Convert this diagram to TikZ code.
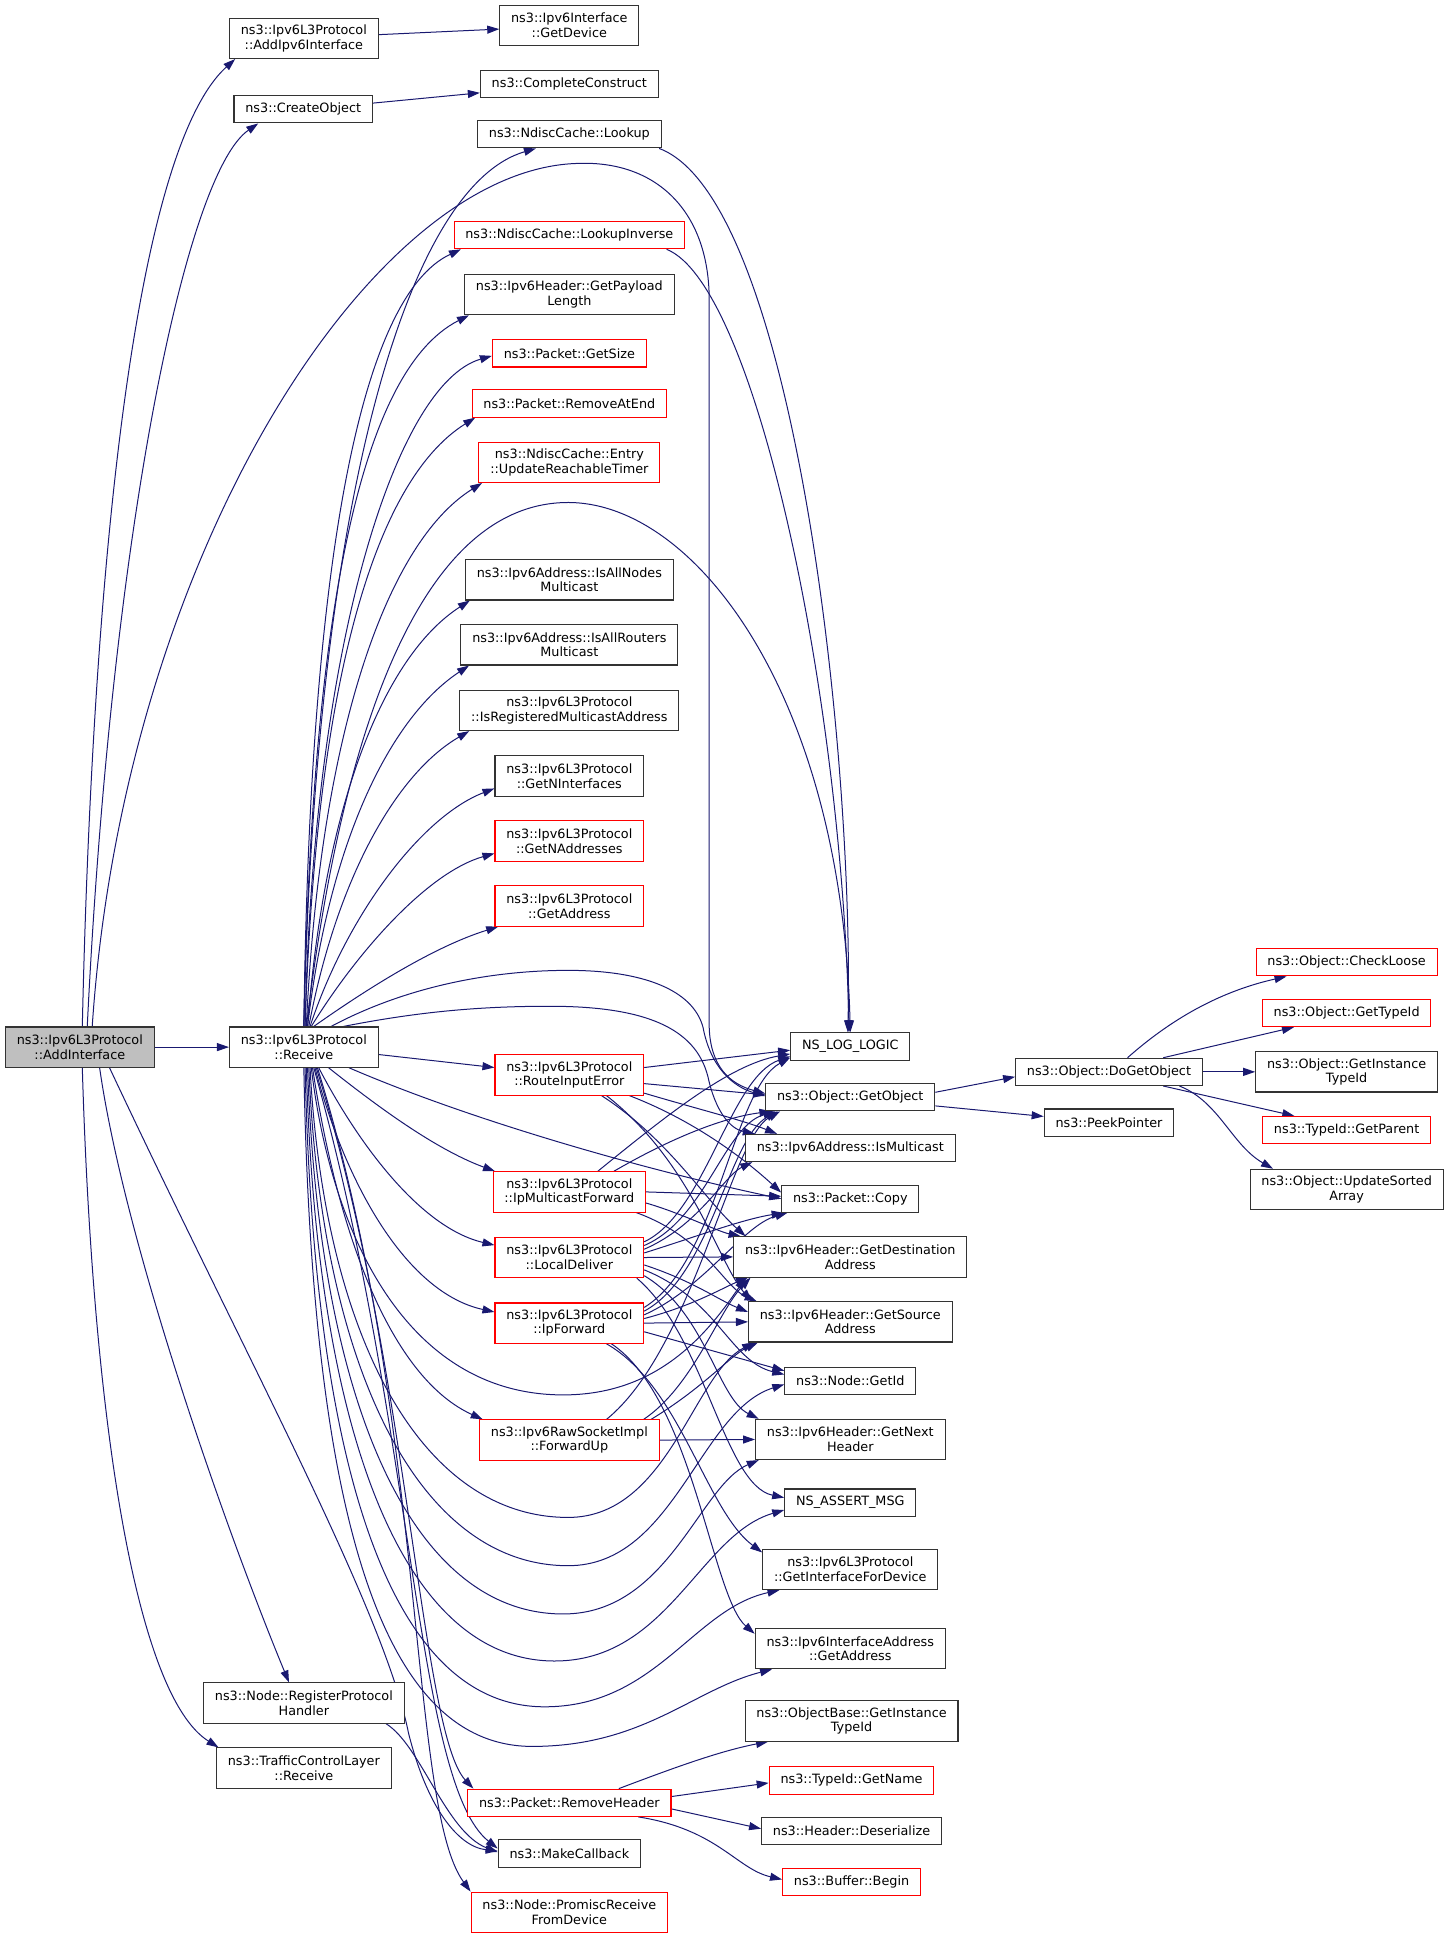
\documentclass[tikz,border=0pt]{standalone}
\usepackage{fontspec}
\setmainfont{DejaVu Sans}
\usetikzlibrary{arrows.meta,calc}
\definecolor{navy}{RGB}{25,25,112}
\definecolor{boxgray}{RGB}{191,191,191}
\newcommand\fs{\fontsize{9.6}{11}\selectfont}
\pgfdeclarelayer{bg}
\pgfsetlayers{bg,main}
\tikzset{
  box/.style={draw=black!80, line width=0.8pt, fill=white, font=\fs, align=center,
    inner xsep=8.5pt, inner ysep=0pt, minimum height=20.4pt},
  box2/.style={box, minimum height=30.2pt},
  redb/.style={draw=red},
  e/.style={draw=navy, line width=0.75pt, -{Triangle[length=9pt,width=6pt]}}
}
\begin{document}
\begin{tikzpicture}[x=0.9282pt,y=-0.9282pt]
\useasboundingbox (0,0) rectangle (1170,1565);
% ---------- nodes ----------
\node[box2, fill=boxgray] (AI) at (64.5,846) {ns3::Ipv6L3Protocol\\::AddInterface};
\node[box2] (RCV) at (245.5,846) {ns3::Ipv6L3Protocol\\::Receive};
\node[box2] (AIP) at (245.5,31) {ns3::Ipv6L3Protocol\\::AddIpv6Interface};
\node[box] (CO) at (245,88.3) {ns3::CreateObject};
\node[box2] (RPH) at (245.5,1376) {ns3::Node::RegisterProtocol\\Handler};
\node[box2] (TCL) at (245.5,1428.5) {ns3::TrafficControlLayer\\::Receive};
%
\node[box2] (GD) at (460,20.5) {ns3::Ipv6Interface\\::GetDevice};
\node[box] (CC) at (460,68) {ns3::CompleteConstruct};
\node[box] (LU) at (460,108.5) {ns3::NdiscCache::Lookup};
\node[box,redb] (LI) at (460,190) {ns3::NdiscCache::LookupInverse};
\node[box2] (GPL) at (460,238) {ns3::Ipv6Header::GetPayload\\Length};
\node[box,redb] (GS) at (460,285.5) {ns3::Packet::GetSize};
\node[box,redb] (RAE) at (460,326) {ns3::Packet::RemoveAtEnd};
\node[box2,redb] (URT) at (460,373.5) {ns3::NdiscCache::Entry\\::UpdateReachableTimer};
\node[box2] (IAN) at (460,468.5) {ns3::Ipv6Address::IsAllNodes\\Multicast};
\node[box2] (IAR) at (460,521) {ns3::Ipv6Address::IsAllRouters\\Multicast};
\node[box2] (IRM) at (460,574) {ns3::Ipv6L3Protocol\\::IsRegisteredMulticastAddress};
\node[box2] (GNI) at (460,627) {ns3::Ipv6L3Protocol\\::GetNInterfaces};
\node[box2,redb] (GNA) at (460,679.5) {ns3::Ipv6L3Protocol\\::GetNAddresses};
\node[box2,redb] (GA) at (460,732) {ns3::Ipv6L3Protocol\\::GetAddress};
\node[box2,redb] (RIE) at (460,868.5) {ns3::Ipv6L3Protocol\\::RouteInputError};
\node[box2,redb] (IMF) at (460,963) {ns3::Ipv6L3Protocol\\::IpMulticastForward};
\node[box2,redb] (LD) at (460,1016) {ns3::Ipv6L3Protocol\\::LocalDeliver};
\node[box2,redb] (IF) at (460,1069) {ns3::Ipv6L3Protocol\\::IpForward};
\node[box2,redb] (FU) at (460,1163.5) {ns3::Ipv6RawSocketImpl\\::ForwardUp};
\node[box,redb] (RH) at (460,1456.5) {ns3::Packet::RemoveHeader};
\node[box] (MC) at (460,1497.5) {ns3::MakeCallback};
\node[box2,redb] (PR) at (460,1545) {ns3::Node::PromiscReceive\\FromDevice};
%
\node[box] (NSL) at (687,845.5) {NS\_LOG\_LOGIC};
\node[box] (GO) at (687,886.5) {ns3::Object::GetObject};
\node[box] (IM) at (687,927.5) {ns3::Ipv6Address::IsMulticast};
\node[box] (PC) at (687,968.5) {ns3::Packet::Copy};
\node[box2] (GDA) at (687,1015.5) {ns3::Ipv6Header::GetDestination\\Address};
\node[box2] (GSA) at (687,1068) {ns3::Ipv6Header::GetSource\\Address};
\node[box] (NGI) at (687,1115.5) {ns3::Node::GetId};
\node[box2] (GNH) at (687,1163) {ns3::Ipv6Header::GetNext\\Header};
\node[box] (NAM) at (687,1214) {NS\_ASSERT\_MSG};
\node[box2] (GIFD) at (687,1268) {ns3::Ipv6L3Protocol\\::GetInterfaceForDevice};
\node[box2] (IAGA) at (687,1332) {ns3::Ipv6InterfaceAddress\\::GetAddress};
\node[box2] (OBGI) at (688,1390.5) {ns3::ObjectBase::GetInstance\\TypeId};
\node[box,redb] (TGN) at (688,1438.5) {ns3::TypeId::GetName};
\node[box] (HD) at (688,1479.5) {ns3::Header::Deserialize};
\node[box,redb] (BB) at (688,1520.5) {ns3::Buffer::Begin};
%
\node[box] (DGO) at (896,866) {ns3::Object::DoGetObject};
\node[box] (PP) at (896,907) {ns3::PeekPointer};
\node[box,redb] (CL) at (1088,777.5) {ns3::Object::CheckLoose};
\node[box,redb] (GTI) at (1088,818.5) {ns3::Object::GetTypeId};
\node[box2] (OGI) at (1088,866) {ns3::Object::GetInstance\\TypeId};
\node[box,redb] (TGP) at (1088,913) {ns3::TypeId::GetParent};
\node[box2] (USA) at (1088,961) {ns3::Object::UpdateSorted\\Array};
% ---------- edges ----------
\begin{pgfonlayer}{bg}
% AddInterface
\draw[e] ($(AI.north)+(2,0)$) .. controls (75,450) and (110,120) .. ($(AIP.south west)+(5,0)$);
\draw[e] ($(AI.north)+(6,0)$) .. controls (90,430) and (150,140) .. ($(CO.south west)+(20,0)$);
\draw[e] ($(AI.north)+(10,0)$) .. controls (100,450) and (300,135) .. (468,132) .. controls (530,130) and (572,170) .. (573,240) -- (573,830) .. controls (574,862) and (590,876) .. ($(GO.west)+(0,-3)$);
\draw[e] (AI.east) -- (RCV.west);
\draw[e] ($(AI.south)+(16,0)$) .. controls (100,1000) and (180,1230) .. ($(RPH.north)+(-12,0)$);
\draw[e] ($(AI.south)+(2,0)$) .. controls (75,1150) and (110,1370) .. ($(TCL.north west)+(2,0)$);
\draw[e] ($(AI.south)+(24,0)$) .. controls (200,1100) and (310,1300) .. (330,1400) .. controls (345,1460) and (370,1492) .. ($(MC.west)+(0,-2)$);
% Receive: upward fan
\draw[e] ($(RCV.east)+(0,6)$) -- ($(RIE.west)+(0,-6)$);
\draw[e] (RCV.north) .. controls (255,400) and (330,150) .. ($(LU.south)+(-27,0)$);
\draw[e] (RCV.north) .. controls (250,460) and (290,240) .. ($(LI.south west)+(6,0)$);
\draw[e] (RCV.north) .. controls (252,500) and (290,300) .. ($(GPL.south west)+(4,0)$);
\draw[e] ($(RCV.north)+(1,0)$) .. controls (253,520) and (320,310) .. ($(GS.west)+(0,2)$);
\draw[e] ($(RCV.north)+(1,0)$) .. controls (255,560) and (300,390) .. ($(RAE.south west)+(3,0)$);
\draw[e] ($(RCV.north)+(2,0)$) .. controls (258,600) and (310,440) .. ($(URT.south west)+(3,0)$);
\draw[e] ($(RCV.north)+(2,0)$) .. controls (280,560) and (350,408) .. (457,406) .. controls (560,404) and (680,560) .. (NSL.north);
\draw[e] ($(RCV.north)+(3,0)$) .. controls (262,650) and (310,530) .. ($(IAN.south west)+(4,0)$);
\draw[e] ($(RCV.north)+(3,0)$) .. controls (266,680) and (315,580) .. ($(IAR.south west)+(7,0)$);
\draw[e] ($(RCV.north)+(4,0)$) .. controls (272,710) and (320,625) .. ($(IRM.south west)+(8,0)$);
\draw[e] ($(RCV.north)+(5,0)$) .. controls (280,740) and (340,660) .. ($(GNI.west)+(0,10)$);
\draw[e] ($(RCV.north)+(6,0)$) .. controls (288,770) and (345,705) .. ($(GNA.west)+(0,10)$);
\draw[e] ($(RCV.north)+(8,0)$) .. controls (295,800) and (350,765) .. ($(GA.south west)+(3,0)$);
% Receive: arcs over to the right
\draw[e] ($(RCV.north)+(22,0)$) .. controls (330,796) and (400,784) .. (459,784) .. controls (520,784) and (560,800) .. (568,830) .. controls (574,862) and (592,878) .. ($(GO.west)+(0,-1)$);
\draw[e] ($(RCV.north)+(32,0)$) .. controls (340,817) and (390,813) .. (444,813) .. controls (520,813) and (562,830) .. (572,870) .. controls (578,898) and (590,912) .. ($(IM.north west)+(8,0)$);
% Receive: rightward / downward
\draw[e] ($(RCV.south east)+(-24,0)$) .. controls (380,905) and (520,945) .. (PC.west);
\draw[e] ($(RCV.south)+(20,0)$) .. controls (300,890) and (350,928) .. ($(IMF.north west)+(2,0)$);
\draw[e] ($(RCV.south)+(12,0)$) .. controls (290,925) and (340,992) .. ($(LD.west)+(0,-10)$);
\draw[e] ($(RCV.south)+(9,0)$) .. controls (280,960) and (330,1045) .. ($(IF.west)+(0,-9)$);
\draw[e] ($(RCV.south)+(7,0)$) .. controls (275,1010) and (320,1115) .. ($(FU.north west)+(3,0)$);
% Receive: arcs below
\draw[e] ($(RCV.south)+(6,0)$) .. controls (268,1000) and (330,1127) .. (455,1127) .. controls (530,1127) and (570,1080) .. ($(GDA.south west)+(10,0)$);
\draw[e] ($(RCV.south)+(5,0)$) .. controls (262,1080) and (340,1226) .. (459,1226) .. controls (540,1226) and (560,1110) .. ($(GSA.south west)+(5,0)$);
\draw[e] ($(RCV.south)+(4,0)$) .. controls (260,1110) and (340,1265) .. (459,1265) .. controls (545,1265) and (565,1140) .. ($(NGI.west)+(0,3)$);
\draw[e] ($(RCV.south)+(3,0)$) .. controls (258,1140) and (335,1304) .. (455,1304) .. controls (540,1304) and (565,1200) .. ($(GNH.south west)+(3,0)$);
\draw[e] ($(RCV.south)+(2,0)$) .. controls (256,1170) and (330,1342) .. (448,1342) .. controls (540,1342) and (565,1240) .. ($(NAM.west)+(0,6)$);
\draw[e] ($(RCV.south)+(1,0)$) .. controls (254,1200) and (320,1379) .. (440,1379) .. controls (530,1379) and (560,1300) .. ($(GIFD.south west)+(14,0)$);
\draw[e] (RCV.south) .. controls (252,1230) and (310,1411) .. (430,1411) .. controls (520,1411) and (560,1365) .. ($(IAGA.south west)+(14,0)$);
% Receive: down bundle
\draw[e] ($(RCV.south)+(10,0)$) .. controls (330,1100) and (340,1400) .. ($(RH.north west)+(5,0)$);
\draw[e] ($(RCV.south)+(8,0)$) .. controls (335,1150) and (335,1440) .. ($(MC.west)+(0,-4)$);
\draw[e] ($(RCV.south)+(11,0)$) .. controls (345,1150) and (330,1460) .. (PR.north west);
\draw[e] ($(RPH.south east)+(-15,0)$) .. controls (340,1410) and (360,1480) .. ($(MC.west)+(0,-1)$);
% RouteInputError
\draw[e] ($(RIE.east)+(0,-6)$) -- ($(NSL.west)+(0,3)$);
\draw[e] ($(RIE.east)+(0,7)$) -- ($(GO.west)+(0,-2)$);
\draw[e] ($(RIE.south east)+(0,-2)$) .. controls (560,895) and (600,905) .. ($(IM.north west)+(26,0)$);
\draw[e] ($(RIE.south east)+(-12,0)$) .. controls (560,905) and (600,935) .. ($(PC.west)+(0,-5)$);
\draw[e] ($(RIE.south)+(26,0)$) .. controls (540,920) and (570,970) .. ($(GDA.north west)+(10,0)$);
\draw[e] ($(RIE.south)+(30,0)$) .. controls (560,940) and (580,1020) .. ($(GSA.north west)+(3,0)$);
% IpMulticastForward
\draw[e] ($(IMF.north)+(23,0)$) .. controls (540,900) and (590,860) .. ($(NSL.west)+(0,6)$);
\draw[e] ($(IMF.north)+(36,0)$) .. controls (550,915) and (590,902) .. ($(GO.south west)+(5,0)$);
\draw[e] (IMF.east) -- ($(PC.west)+(0,-2)$);
\draw[e] ($(IMF.east)+(0,9)$) .. controls (550,980) and (580,995) .. ($(GDA.north west)+(6,0)$);
\draw[e] ($(IMF.south east)+(-8,0)$) .. controls (570,1000) and (585,1040) .. ($(GSA.north west)+(7,0)$);
% LocalDeliver
\draw[e] ($(LD.north east)+(0,4)$) .. controls (570,980) and (590,870) .. ($(NSL.west)+(0,8)$);
\draw[e] ($(LD.north east)+(0,7)$) .. controls (570,985) and (585,910) .. ($(GO.south west)+(8,0)$);
\draw[e] ($(LD.north east)+(0,10)$) .. controls (565,990) and (585,950) .. ($(IM.south west)+(6,0)$);
\draw[e] ($(LD.north east)+(0,13)$) .. controls (560,1000) and (600,985) .. ($(PC.south west)+(2,0)$);
\draw[e] (LD.east) -- (GDA.west);
\draw[e] ($(LD.east)+(0,6)$) .. controls (560,1035) and (580,1050) .. ($(GSA.west)+(0,-8)$);
\draw[e] ($(LD.east)+(0,10)$) .. controls (580,1050) and (590,1100) .. ($(NGI.west)+(0,-5)$);
\draw[e] ($(LD.south east)+(0,-2)$) .. controls (570,1060) and (580,1130) .. ($(GNH.north west)+(3,0)$);
\draw[e] ($(LD.south east)+(-6,0)$) .. controls (570,1080) and (585,1200) .. ($(NAM.west)+(0,-4)$);
% IpForward
\draw[e] ($(IF.north east)+(0,4)$) .. controls (580,1020) and (592,880) .. ($(NSL.west)+(0,9)$);
\draw[e] ($(IF.north east)+(0,7)$) .. controls (575,1030) and (588,920) .. ($(GO.south west)+(10,0)$);
\draw[e] ($(IF.north east)+(0,10)$) .. controls (570,1040) and (600,990) .. ($(PC.south west)+(5,0)$);
\draw[e] ($(IF.north east)+(0,13)$) .. controls (560,1055) and (585,1040) .. ($(GDA.south west)+(12,0)$);
\draw[e] (IF.east) -- (GSA.west);
\draw[e] ($(IF.east)+(0,7)$) -- ($(NGI.west)+(0,-8)$);
\draw[e] ($(IF.south)+(30,0)$) .. controls (550,1120) and (570,1220) .. ($(GIFD.north west)+(0,3)$);
\draw[e] ($(IF.south)+(34,0)$) .. controls (560,1130) and (575,1290) .. ($(IAGA.west)+(0,-12)$);
% ForwardUp
\draw[e] ($(FU.north)+(30,0)$) .. controls (560,1090) and (590,920) .. ($(GO.south west)+(12,0)$);
\draw[e] ($(FU.north)+(60,0)$) .. controls (560,1120) and (580,1060) .. ($(GDA.south west)+(14,0)$);
\draw[e] ($(FU.north)+(66,0)$) .. controls (570,1120) and (590,1095) .. ($(GSA.south west)+(8,0)$);
\draw[e] (FU.east) -- (GNH.west);
% second column, top
\draw[e] ($(AIP.east)+(0,-3)$) -- ($(GD.west)+(0,3)$);
\draw[e] ($(CO.east)+(0,-5)$) -- ($(CC.west)+(0,7)$);
\draw[e] ($(LU.south east)+(-2,0)$) .. controls (640,160) and (690,600) .. ($(NSL.north)+(-2,0)$);
\draw[e] ($(LI.south east)+(-15,0)$) .. controls (610,230) and (680,560) .. ($(NSL.north)+(-1,0)$);
% GetObject / DoGetObject
\draw[e] ($(GO.east)+(0,-4)$) -- ($(DGO.west)+(0,4)$);
\draw[e] ($(GO.east)+(0,7)$) -- ($(PP.west)+(0,-5)$);
\draw[e] ($(DGO.north)+(15,0)$) .. controls (950,820) and (990,800) .. ($(CL.south west)+(25,0)$);
\draw[e] ($(DGO.north east)+(-32,0)$) -- ($(GTI.south west)+(26,0)$);
\draw[e] (DGO.east) -- (OGI.west);
\draw[e] ($(DGO.south east)+(-32,0)$) -- ($(TGP.north west)+(26,0)$);
\draw[e] ($(DGO.south east)+(-19,0)$) .. controls (985,890) and (995,925) .. ($(USA.north west)+(19,0)$);
% RemoveHeader
\draw[e] ($(RH.north)+(40,0)$) .. controls (540,1430) and (580,1415) .. ($(OBGI.south west)+(19,0)$);
\draw[e] ($(RH.east)+(0,-5)$) -- ($(TGN.west)+(0,2)$);
\draw[e] ($(RH.east)+(0,5)$) -- ($(HD.west)+(0,-2)$);
\draw[e] ($(RH.south east)+(-27,0)$) .. controls (580,1478) and (595,1510) .. ($(BB.west)+(0,-2)$);
\end{pgfonlayer}
\end{tikzpicture}
\end{document}
